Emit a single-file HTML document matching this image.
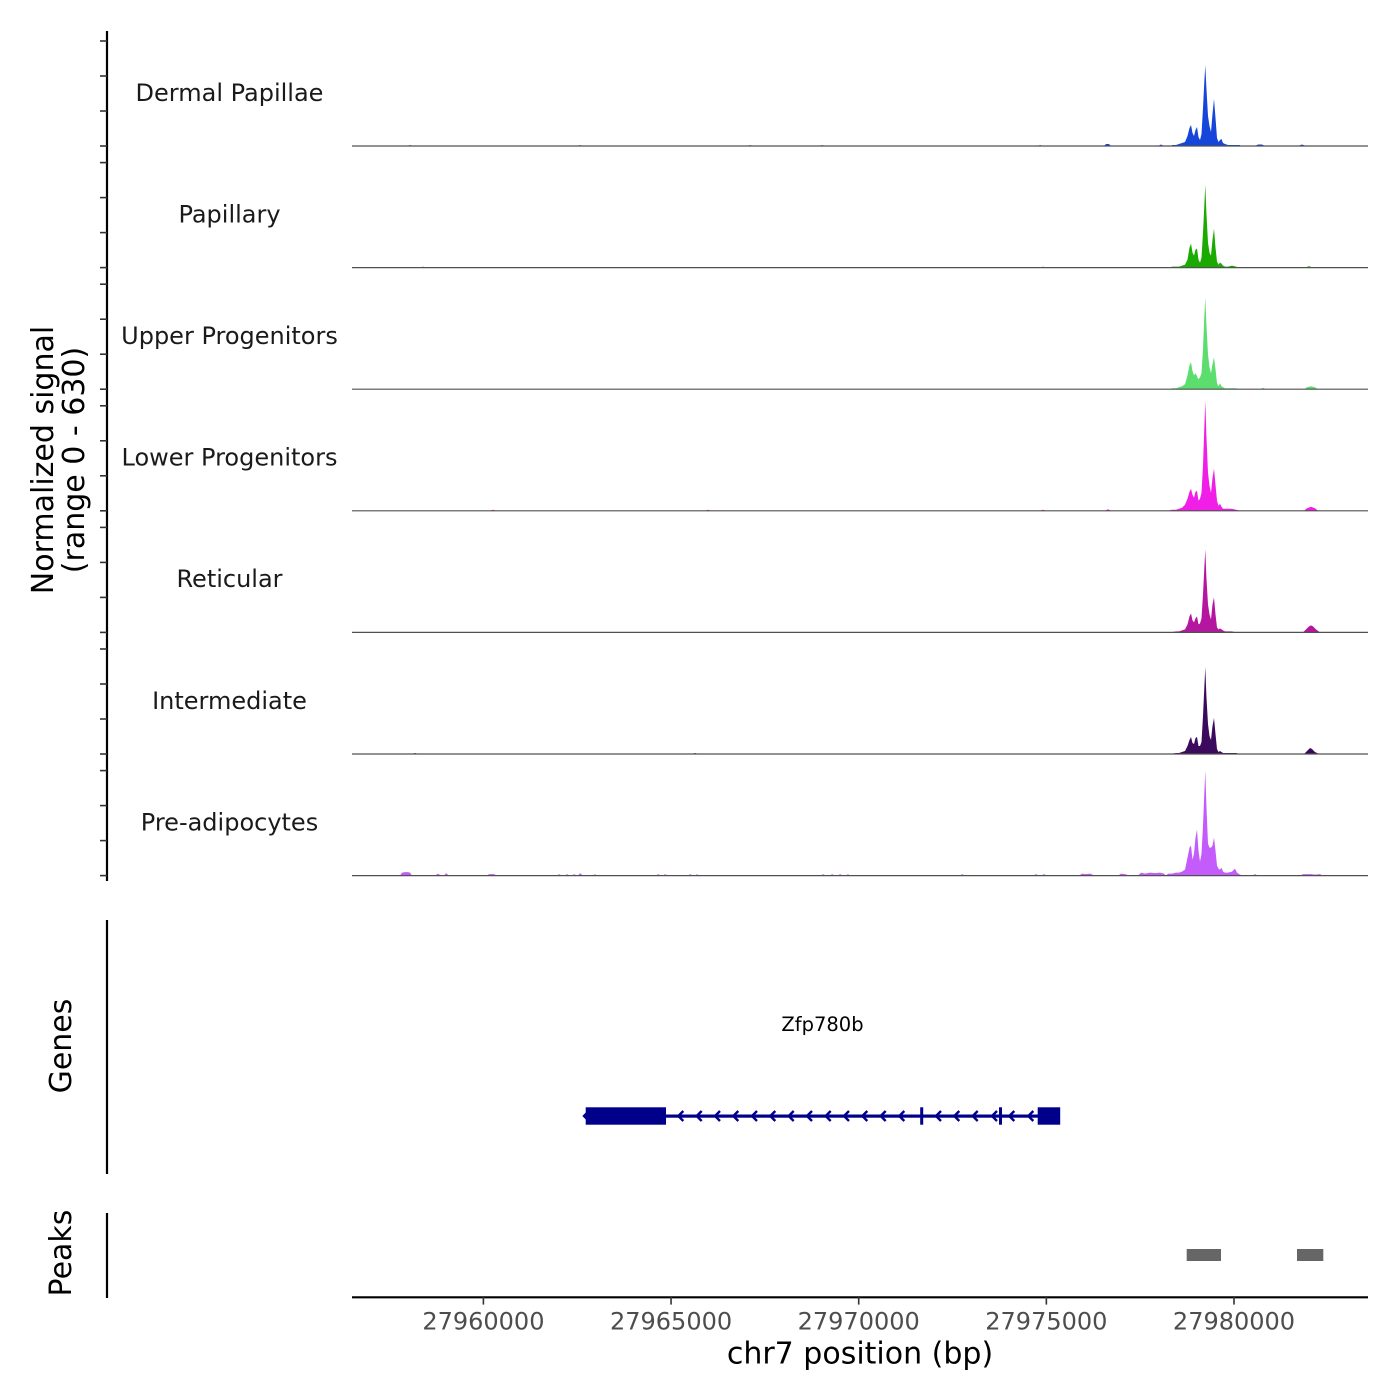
<!DOCTYPE html>
<html>
<head>
<meta charset="utf-8">
<style>
  html, body { margin: 0; padding: 0; background: #ffffff; }
  svg { display: block; }
  text { font-family: "DejaVu Sans", "Liberation Sans", sans-serif; }
</style>
</head>
<body>
<svg width="1400" height="1400" viewBox="0 0 1400 1400" xmlns="http://www.w3.org/2000/svg">
  <rect x="0" y="0" width="1400" height="1400" fill="#ffffff"/>

  <!-- Y axis title -->
  <text transform="translate(53,460) rotate(-90)" text-anchor="middle" font-size="30" fill="#000">Normalized signal</text>
  <text transform="translate(84,460) rotate(-90)" text-anchor="middle" font-size="30" fill="#000">(range 0 - 630)</text>

  <!-- Y axis line + ticks for signal tracks -->
  <line x1="107" y1="31" x2="107" y2="881" stroke="#000" stroke-width="2.2"/>
  <g stroke="#333" stroke-width="1.6">
    <line x1="100" y1="41" x2="107" y2="41"/><line x1="100" y1="76" x2="107" y2="76"/><line x1="100" y1="111" x2="107" y2="111"/><line x1="100" y1="146" x2="107" y2="146"/>
    <line x1="100" y1="162.6" x2="107" y2="162.6"/><line x1="100" y1="197.6" x2="107" y2="197.6"/><line x1="100" y1="232.6" x2="107" y2="232.6"/><line x1="100" y1="267.6" x2="107" y2="267.6"/>
    <line x1="100" y1="284.2" x2="107" y2="284.2"/><line x1="100" y1="319.2" x2="107" y2="319.2"/><line x1="100" y1="354.2" x2="107" y2="354.2"/><line x1="100" y1="389.2" x2="107" y2="389.2"/>
    <line x1="100" y1="405.8" x2="107" y2="405.8"/><line x1="100" y1="440.8" x2="107" y2="440.8"/><line x1="100" y1="475.8" x2="107" y2="475.8"/><line x1="100" y1="510.8" x2="107" y2="510.8"/>
    <line x1="100" y1="527.4" x2="107" y2="527.4"/><line x1="100" y1="562.4" x2="107" y2="562.4"/><line x1="100" y1="597.4" x2="107" y2="597.4"/><line x1="100" y1="632.4" x2="107" y2="632.4"/>
    <line x1="100" y1="649" x2="107" y2="649"/><line x1="100" y1="684" x2="107" y2="684"/><line x1="100" y1="719" x2="107" y2="719"/><line x1="100" y1="754" x2="107" y2="754"/>
    <line x1="100" y1="770.6" x2="107" y2="770.6"/><line x1="100" y1="805.6" x2="107" y2="805.6"/><line x1="100" y1="840.6" x2="107" y2="840.6"/><line x1="100" y1="875.6" x2="107" y2="875.6"/>
  </g>

  <!-- Track labels -->
  <g font-size="24" fill="#1a1a1a" text-anchor="middle">
    <text x="229.5" y="100.8">Dermal Papillae</text>
    <text x="229.5" y="222.4">Papillary</text>
    <text x="229.5" y="344">Upper Progenitors</text>
    <text x="229.5" y="465.6">Lower Progenitors</text>
    <text x="229.5" y="587.2">Reticular</text>
    <text x="229.5" y="708.8">Intermediate</text>
    <text x="229.5" y="830.4">Pre-adipocytes</text>
  </g>

  <!-- Track 1: Dermal Papillae -->
  <g transform="translate(0,146) scale(1,-1)" fill="#1645DA">
    <polygon points="1172,0 1172,1 1176,1 1179,2 1182,3 1185,4 1187.5,10 1189.5,18 1191,21 1192.5,13 1194,10 1195.5,16 1197,19 1198.5,9 1200,6 1201.5,12 1203,38 1204.2,62 1205.3,81 1206.4,58 1208,30 1209.5,20 1211,14 1212.5,32 1214,47 1215.5,28 1217,8 1218.5,4 1220,6 1221.5,7 1223,3 1225,2 1228,1 1232,1 1236,1 1240,1 1240,0"/>
    <polygon points="1104,0 1106,2 1109,2 1111,0"/>
    <polygon points="1158,0 1161,1.5 1164,0"/>
    <polygon points="1255,0 1258,1.5 1262,1.5 1265,0"/>
    <polygon points="1298,0 1302,1.5 1306,0"/>
    <polygon points="408,0 410,1 413,0"/>
    <polygon points="578,0 580,1 583,0"/>
    <polygon points="748,0 750,1 753,0"/>
    <polygon points="820,0 822,1 825,0"/>
    <polygon points="1038,0 1040,1 1043,0"/>
  </g>
  <line x1="352" y1="146" x2="1368" y2="146" stroke="#505050" stroke-width="1.2"/>

  <!-- Track 2: Papillary -->
  <g transform="translate(0,267.6) scale(1,-1)" fill="#1BAA00">
    <polygon points="1170,0 1172,1 1176,1 1179,1 1182,2 1185,3 1187.5,8 1189.5,20 1191,24 1192.5,15 1194,12 1195.5,18 1197,19 1198.5,8 1200,5 1201.5,10 1203,35 1204.2,60 1205.3,83 1206.4,55 1208,25 1209.5,15 1211,12 1212.5,28 1214,39 1215.5,20 1217,6 1218.5,3 1220,5 1221.5,4 1223,2 1225,1 1228,1 1232,2 1236,1 1240,0"/>
    <polygon points="1305,0 1309,1.5 1313,0"/>
    <polygon points="420,0 423,1 426,0"/>
    <polygon points="1040,0 1043,1 1046,0"/>
  </g>
  <line x1="352" y1="267.6" x2="1368" y2="267.6" stroke="#505050" stroke-width="1.2"/>

  <!-- Track 3: Upper Progenitors -->
  <g transform="translate(0,389.2) scale(1,-1)" fill="#5BDE6E">
    <polygon points="1170,0 1172,1 1176,1 1179,2 1182,3 1185,5 1187.5,14 1189.5,24 1191,27 1192.5,18 1194,14 1195.5,16 1197,13 1198.5,10 1200,12 1201.5,16 1203,40 1204.2,70 1205.3,92 1206.4,65 1208,35 1209.5,22 1211,16 1212.5,25 1214,32 1215.5,20 1217,6 1218.5,3 1220,6 1221.5,3 1223,2 1225,1 1228,1 1232,1 1236,1 1240,0"/>
    <polygon points="1304,0 1307,2 1311,3 1315,2 1318,0"/>
    <polygon points="1260,0 1263,1.5 1266,0"/>
  </g>
  <line x1="352" y1="389.2" x2="1368" y2="389.2" stroke="#505050" stroke-width="1.2"/>

  <!-- Track 4: Lower Progenitors -->
  <g transform="translate(0,510.8) scale(1,-1)" fill="#F01EE6">
    <polygon points="1168,0 1172,1 1176,1 1179,2 1182,3 1185,6 1187.5,12 1189.5,19 1191,22 1192.5,16 1194,13 1195.5,19 1197,20 1198.5,10 1200,12 1201.5,18 1203,45 1204.2,80 1205.3,110 1206.4,75 1208,38 1209.5,25 1211,18 1212.5,33 1214,42 1215.5,26 1217,10 1218.5,5 1220,7 1221.5,4 1223,2 1225,2 1228,2 1232,2 1236,1 1240,0"/>
    <polygon points="1304,0 1307,2.5 1311,4 1315,2.5 1318,0"/>
    <polygon points="1105,0 1108,1.5 1111,0"/>
    <polygon points="490,0 493,1 496,0"/>
    <polygon points="705,0 708,1 711,0"/>
    <polygon points="1040,0 1043,1 1046,0"/>
  </g>
  <line x1="352" y1="510.8" x2="1368" y2="510.8" stroke="#505050" stroke-width="1.2"/>

  <!-- Track 5: Reticular -->
  <g transform="translate(0,632.4) scale(1,-1)" fill="#B5169F">
    <polygon points="1170,0 1176,1 1179,1 1182,2 1185,3 1187.5,8 1189.5,16 1191,19 1192.5,12 1194,10 1195.5,14 1197,16 1198.5,8 1200,9 1201.5,14 1203,38 1204.2,62 1205.3,83 1206.4,55 1208,28 1209.5,18 1211,13 1212.5,28 1214,35 1215.5,18 1217,5 1218.5,3 1220,4 1221.5,3 1223,2 1225,1 1228,1 1232,1 1236,0"/>
    <polygon points="1303,0 1306,3 1309,6 1311,7 1313,6 1316,3 1320,0"/>
  </g>
  <line x1="352" y1="632.4" x2="1368" y2="632.4" stroke="#505050" stroke-width="1.2"/>

  <!-- Track 6: Intermediate -->
  <g transform="translate(0,754) scale(1,-1)" fill="#3C0A5C">
    <polygon points="1170,0 1176,1 1179,1 1182,2 1185,3 1187.5,8 1189.5,14 1191,17 1192.5,11 1194,10 1195.5,16 1197,17 1198.5,8 1200,8 1201.5,12 1203,38 1204.2,64 1205.3,87 1206.4,58 1208,30 1209.5,18 1211,14 1212.5,28 1214,36 1215.5,20 1217,5 1218.5,2 1220,3 1221.5,2 1223,1 1225,1 1228,1 1232,1 1236,1 1240,0"/>
    <polygon points="1304,0 1307,3 1310,6 1312,5 1315,2 1319,0"/>
    <polygon points="412,0 415,1 418,0"/>
    <polygon points="692,0 695,1 698,0"/>
  </g>
  <line x1="352" y1="754" x2="1368" y2="754" stroke="#505050" stroke-width="1.2"/>

  <!-- Track 7: Pre-adipocytes -->
  <g transform="translate(0,875.6) scale(1,-1)" fill="#C35CFA">
    <polygon points="1166,0 1168,2 1172,2 1176,3 1179,3 1182,4 1185,6 1187.5,18 1189.5,28 1191,30 1192.5,16 1194,22 1195.5,38 1197,46 1198.5,25 1200,14 1201.5,22 1203,50 1204.2,80 1205.3,105 1206.4,70 1208,32 1209.5,28 1211,28 1212.5,30 1214,38 1215.5,25 1217,10 1218.5,7 1220,6 1221.5,8 1223,4 1225,3 1228,3 1232,4 1235,7 1237,3 1240,1 1244,0"/>
    <polygon points="400,0 402,3 405,3.5 408,3.5 410,3 412,0"/>
    <polygon points="435,0 438,2 441,0"/>
    <polygon points="444,0 446,2.5 449,0"/>
    <polygon points="487,0 489,1.5 492,1.5 494,1.5 497,0"/>
    <polygon points="557,0 559,1.5 562,0"/>
    <polygon points="565,0 567,1.5 570,0"/>
    <polygon points="572,0 574,1.5 577,0"/>
    <polygon points="578,0 580,2.5 583,0"/>
    <polygon points="593,0 595,1.5 597,0"/>
    <polygon points="656,0 658,1.5 661,0"/>
    <polygon points="663,0 665,1.5 668,0"/>
    <polygon points="688,0 690,1.5 693,0"/>
    <polygon points="695,0 697,1.5 699,0"/>
    <polygon points="821,0 823,1.5 826,0"/>
    <polygon points="830,0 832,1.5 835,0"/>
    <polygon points="838,0 840,1.5 843,0"/>
    <polygon points="846,0 848,1.5 850,0"/>
    <polygon points="960,0 962,1.5 965,0"/>
    <polygon points="1033,0 1036,1.5 1039,0"/>
    <polygon points="1041,0 1044,1.5 1047,0"/>
    <polygon points="1079,0 1082,2 1086,1.5 1090,2 1095,0"/>
    <polygon points="1118,0 1121,2 1125,1.5 1130,0"/>
    <polygon points="1138,0 1141,3 1145,2 1150,3 1155,2.5 1160,3 1164,2 1166,0"/>
    <polygon points="1252,0 1255,1.5 1258,0"/>
    <polygon points="1300,0 1303,1.5 1307,1.5 1311,1.5 1315,1 1320,1.5 1323,0"/>
  </g>
  <line x1="352" y1="875.6" x2="1368" y2="875.6" stroke="#505050" stroke-width="1.2"/>

  <!-- Genes track -->
  <text transform="translate(71,1046) rotate(-90)" text-anchor="middle" font-size="30" fill="#000">Genes</text>
  <line x1="107" y1="920" x2="107" y2="1174" stroke="#000" stroke-width="2.2"/>
  <text x="822.5" y="1031" text-anchor="middle" font-size="19.5" fill="#000">Zfp780b</text>
  <g fill="#00008B" stroke="none">
    <rect x="585.7" y="1114.5" width="474" height="3.2"/>
    <rect x="585.7" y="1107.3" width="80.3" height="17.4"/>
    <rect x="1037.7" y="1107.3" width="22.5" height="17.4"/>
    <rect x="920.2" y="1107.3" width="3" height="17.4"/>
    <rect x="999" y="1107.3" width="3" height="17.4"/>
  </g>
  <g fill="none" stroke="#00008B" stroke-width="2.4" stroke-linecap="butt">
    <polyline points="589,1111 584,1116 589,1121"/>
    <polyline points="683.3,1111 678.3,1116 683.3,1121"/>
    <polyline points="701.7,1111 696.7,1116 701.7,1121"/>
    <polyline points="720,1111 715,1116 720,1121"/>
    <polyline points="738.3,1111 733.3,1116 738.3,1121"/>
    <polyline points="757,1111 752,1116 757,1121"/>
    <polyline points="775.3,1111 770.3,1116 775.3,1121"/>
    <polyline points="793.7,1111 788.7,1116 793.7,1121"/>
    <polyline points="812,1111 807,1116 812,1121"/>
    <polyline points="830.7,1111 825.7,1116 830.7,1121"/>
    <polyline points="849,1111 844,1116 849,1121"/>
    <polyline points="867.3,1111 862.3,1116 867.3,1121"/>
    <polyline points="885.7,1111 880.7,1116 885.7,1121"/>
    <polyline points="904.3,1111 899.3,1116 904.3,1121"/>
    <polyline points="941,1111 936,1116 941,1121"/>
    <polyline points="959.3,1111 954.3,1116 959.3,1121"/>
    <polyline points="977.7,1111 972.7,1116 977.7,1121"/>
    <polyline points="997,1111 992,1116 997,1121"/>
    <polyline points="1014.3,1111 1009.3,1116 1014.3,1121"/>
    <polyline points="1033.3,1111 1028.3,1116 1033.3,1121"/>
  </g>

  <!-- Peaks track -->
  <text transform="translate(71,1253) rotate(-90)" text-anchor="middle" font-size="30" fill="#000">Peaks</text>
  <line x1="107" y1="1213" x2="107" y2="1298" stroke="#000" stroke-width="2.2"/>
  <rect x="1186.7" y="1249" width="34.3" height="12" fill="#666666"/>
  <rect x="1297" y="1249" width="26.3" height="12" fill="#666666"/>

  <!-- X axis -->
  <line x1="352" y1="1297.3" x2="1368" y2="1297.3" stroke="#000" stroke-width="2.2"/>
  <g stroke="#333" stroke-width="1.6">
    <line x1="483.4" y1="1297" x2="483.4" y2="1304.6"/>
    <line x1="671.05" y1="1297" x2="671.05" y2="1304.6"/>
    <line x1="858.7" y1="1297" x2="858.7" y2="1304.6"/>
    <line x1="1046.35" y1="1297" x2="1046.35" y2="1304.6"/>
    <line x1="1234" y1="1297" x2="1234" y2="1304.6"/>
  </g>
  <g font-size="24" fill="#4D4D4D" text-anchor="middle">
    <text x="483.4" y="1329.3">27960000</text>
    <text x="671.05" y="1329.3">27965000</text>
    <text x="858.7" y="1329.3">27970000</text>
    <text x="1046.35" y="1329.3">27975000</text>
    <text x="1234" y="1329.3">27980000</text>
  </g>
  <text x="860" y="1363.3" text-anchor="middle" font-size="30" fill="#000">chr7 position (bp)</text>
</svg>
</body>
</html>
